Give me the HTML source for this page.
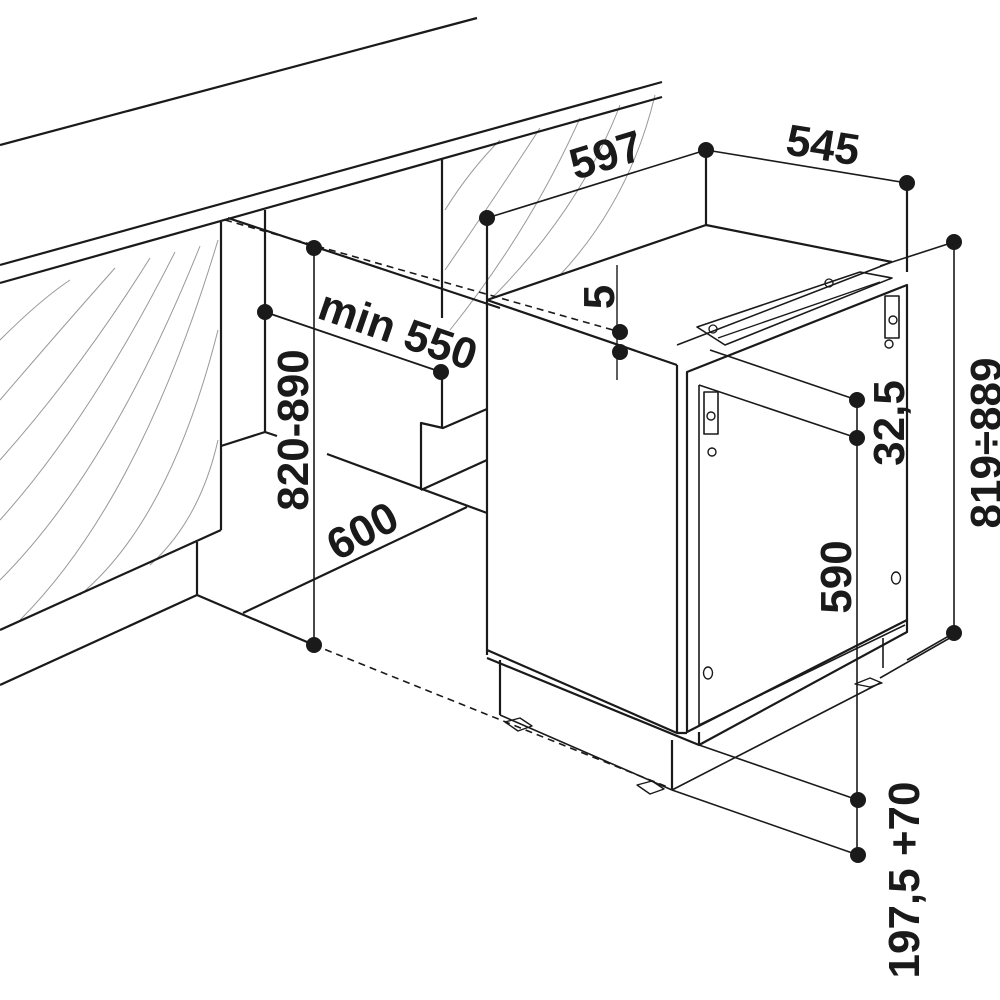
<!DOCTYPE html>
<html><head><meta charset="utf-8"><style>
html,body{margin:0;padding:0;background:#fff;width:1000px;height:1000px;overflow:hidden}
svg{display:block}
text{font-family:"Liberation Sans",sans-serif;font-weight:bold;fill:#1a1a1a}
</style></head><body>
<svg width="1000" height="1000" viewBox="0 0 1000 1000" xmlns="http://www.w3.org/2000/svg">
<g fill="none" stroke="#999" stroke-width="1">
<path d="M0,340 Q40,300 70,280"/>
<path d="M0,400 Q60,330 115,268"/>
<path d="M0,460 Q80,370 150,258"/>
<path d="M0,520 Q90,420 175,252"/>
<path d="M0,580 Q110,470 200,246"/>
<path d="M20,620 Q140,500 218,240"/>
<path d="M80,595 Q170,520 218,330"/>
<path d="M150,565 Q200,520 218,440"/>
<path d="M445,210 Q470,170 500,140"/>
<path d="M445,270 Q500,190 540,128"/>
<path d="M450,330 Q530,230 580,118"/>
<path d="M490,300 Q580,210 620,105"/>
<path d="M560,275 Q630,200 655,95"/>
</g>
<g fill="none" stroke="#1a1a1a" stroke-width="2.2" stroke-linejoin="round">
<line x1="0" y1="145" x2="477" y2="18"/>
<line x1="0" y1="265" x2="662" y2="82"/>
<line x1="0" y1="283" x2="662" y2="97"/>
<line x1="221" y1="222" x2="221" y2="530"/>
<line x1="221" y1="530" x2="0" y2="630"/>
<line x1="197" y1="542" x2="197" y2="595"/>
<line x1="197" y1="595" x2="0" y2="685"/>
<line x1="197" y1="595" x2="314" y2="645"/>
<line x1="221" y1="446" x2="265" y2="432"/>
<line x1="265" y1="432" x2="277" y2="436"/>
<line x1="265" y1="210" x2="265" y2="432"/>
<line x1="442" y1="158" x2="442" y2="318"/>
<line x1="442" y1="372" x2="442" y2="428"/>
<polyline points="421,490 421,423 443,428 487,409"/>
<line x1="421" y1="490" x2="487" y2="460"/>
<line x1="327" y1="454" x2="487" y2="513"/>
<line x1="243" y1="613" x2="467" y2="507"/>
<line x1="228" y1="218" x2="500" y2="308"/>
<line x1="487" y1="218" x2="487" y2="655"/>
<polyline points="487,300 706,225 892,262"/>
<line x1="706" y1="150" x2="706" y2="225"/>
<line x1="907" y1="183" x2="907" y2="272"/>
<line x1="487" y1="300" x2="677" y2="365"/>
<line x1="677" y1="365" x2="677" y2="733"/>
<line x1="892" y1="262" x2="677" y2="345" stroke-width="1.6"/>
<polygon points="687,372 907,285 907,620 687,732" />
<polyline points="699,385 699,725 905,625" stroke-width="1.6"/>
<line x1="699" y1="385" x2="857" y2="438" stroke-width="1.6"/>
<line x1="710" y1="350" x2="857" y2="400" stroke-width="1.6"/>
<polyline points="487,650 677,733 687,733"/>
<polyline points="487,658 699,745 907,632 907,620"/>
<line x1="699" y1="732" x2="699" y2="745"/>
<line x1="500" y1="660" x2="500" y2="715"/>
<line x1="672" y1="740" x2="672" y2="790"/>
<line x1="500" y1="715" x2="672" y2="790" stroke-width="1.6"/>
<line x1="883" y1="638" x2="883" y2="668" stroke-width="1.6"/>
<line x1="672" y1="790" x2="880" y2="683" stroke-width="1.6"/>
<line x1="880" y1="678" x2="955" y2="635" stroke-width="1.6"/>
<line x1="699" y1="745" x2="858" y2="800" stroke-width="1.6"/>
<line x1="672" y1="790" x2="858" y2="855" stroke-width="1.6"/>
<polygon points="697,327 860,272 892,278 725,345" stroke-width="1.6"/>
<polyline points="718,338 880,282" stroke-width="1.4"/>
<circle cx="713" cy="329" r="4" stroke-width="1.3"/>
<circle cx="829" cy="283" r="4" stroke-width="1.3"/>
<rect x="885" y="296" width="14" height="42" stroke-width="1.6"/>
<circle cx="893" cy="320" r="4" stroke-width="1.4"/>
<circle cx="889" cy="344" r="4" stroke-width="1.4"/>
<rect x="704" y="392" width="14" height="42" stroke-width="1.6"/>
<circle cx="711" cy="416" r="4" stroke-width="1.4"/>
<circle cx="712" cy="452" r="4" stroke-width="1.4"/>
<ellipse cx="896" cy="578" rx="4.5" ry="6" stroke-width="1.4"/>
<ellipse cx="708" cy="673" rx="4.5" ry="6" stroke-width="1.4"/>
<polygon points="505,722 520,718 532,726 518,731" stroke-width="1.4"/>
<polygon points="637,785 652,781 664,789 650,794" stroke-width="1.4"/>
<polygon points="855,684 870,678 882,683 870,687" stroke-width="1.4"/>
<line x1="314" y1="248" x2="314" y2="645" stroke-width="1.6"/>
<line x1="265" y1="312" x2="441" y2="372" stroke-width="1.8"/>
<line x1="487" y1="218" x2="706" y2="150" stroke-width="1.6"/>
<line x1="706" y1="150" x2="907" y2="183" stroke-width="1.6"/>
<line x1="954" y1="242" x2="954" y2="633" stroke-width="1.6"/>
<line x1="880" y1="266" x2="954" y2="242" stroke-width="1.6"/>
<line x1="907" y1="660" x2="954" y2="633" stroke-width="1.6"/>
<line x1="857" y1="392" x2="857" y2="855" stroke-width="1.6"/>
<line x1="617" y1="265" x2="617" y2="380" stroke-width="1.4"/>
</g>
<g fill="none" stroke="#1a1a1a" stroke-width="1.6" stroke-dasharray="7,5">
<line x1="225" y1="220" x2="620" y2="332"/>
<line x1="314" y1="645" x2="670" y2="788"/>
</g>
<g fill="#1a1a1a">
<circle cx="314" cy="248" r="8"/><circle cx="314" cy="645" r="8"/>
<circle cx="265" cy="312" r="8"/><circle cx="441" cy="372" r="8"/>
<circle cx="487" cy="218" r="8"/><circle cx="706" cy="150" r="8"/><circle cx="907" cy="183" r="8"/>
<circle cx="620" cy="332" r="8"/><circle cx="620" cy="352" r="8"/>
<circle cx="954" cy="242" r="8"/><circle cx="954" cy="633" r="8"/>
<circle cx="857" cy="400" r="8"/><circle cx="857" cy="438" r="8"/>
<circle cx="858" cy="800" r="8"/><circle cx="858" cy="855" r="8"/>
</g>
<g font-size="44">
<text x="606" y="170" text-anchor="middle" transform="rotate(-17 606 155)">597</text>
<text x="823" y="160" text-anchor="middle" transform="rotate(9 823 145)">545</text>
<text x="398" y="345" text-anchor="middle" transform="rotate(19 398 330)">min 550</text>
<text x="292" y="446" text-anchor="middle" transform="rotate(-90 292 430)">820-890</text>
<text x="362" y="546" text-anchor="middle" transform="rotate(-28 362 530)">600</text>
<text x="598" y="313" text-anchor="middle" transform="rotate(-90 598 297)">5</text>
<text x="888" y="439" text-anchor="middle" transform="rotate(-90 888 423)">32,5</text>
<text x="835" y="593" text-anchor="middle" transform="rotate(-90 835 577)">590</text>
<text x="985" y="459" text-anchor="middle" transform="rotate(-90 985 443)">819÷889</text>
<text x="903" y="896" text-anchor="middle" transform="rotate(-90 903 880)">197,5 +70</text>
</g>
</svg>
</body></html>
